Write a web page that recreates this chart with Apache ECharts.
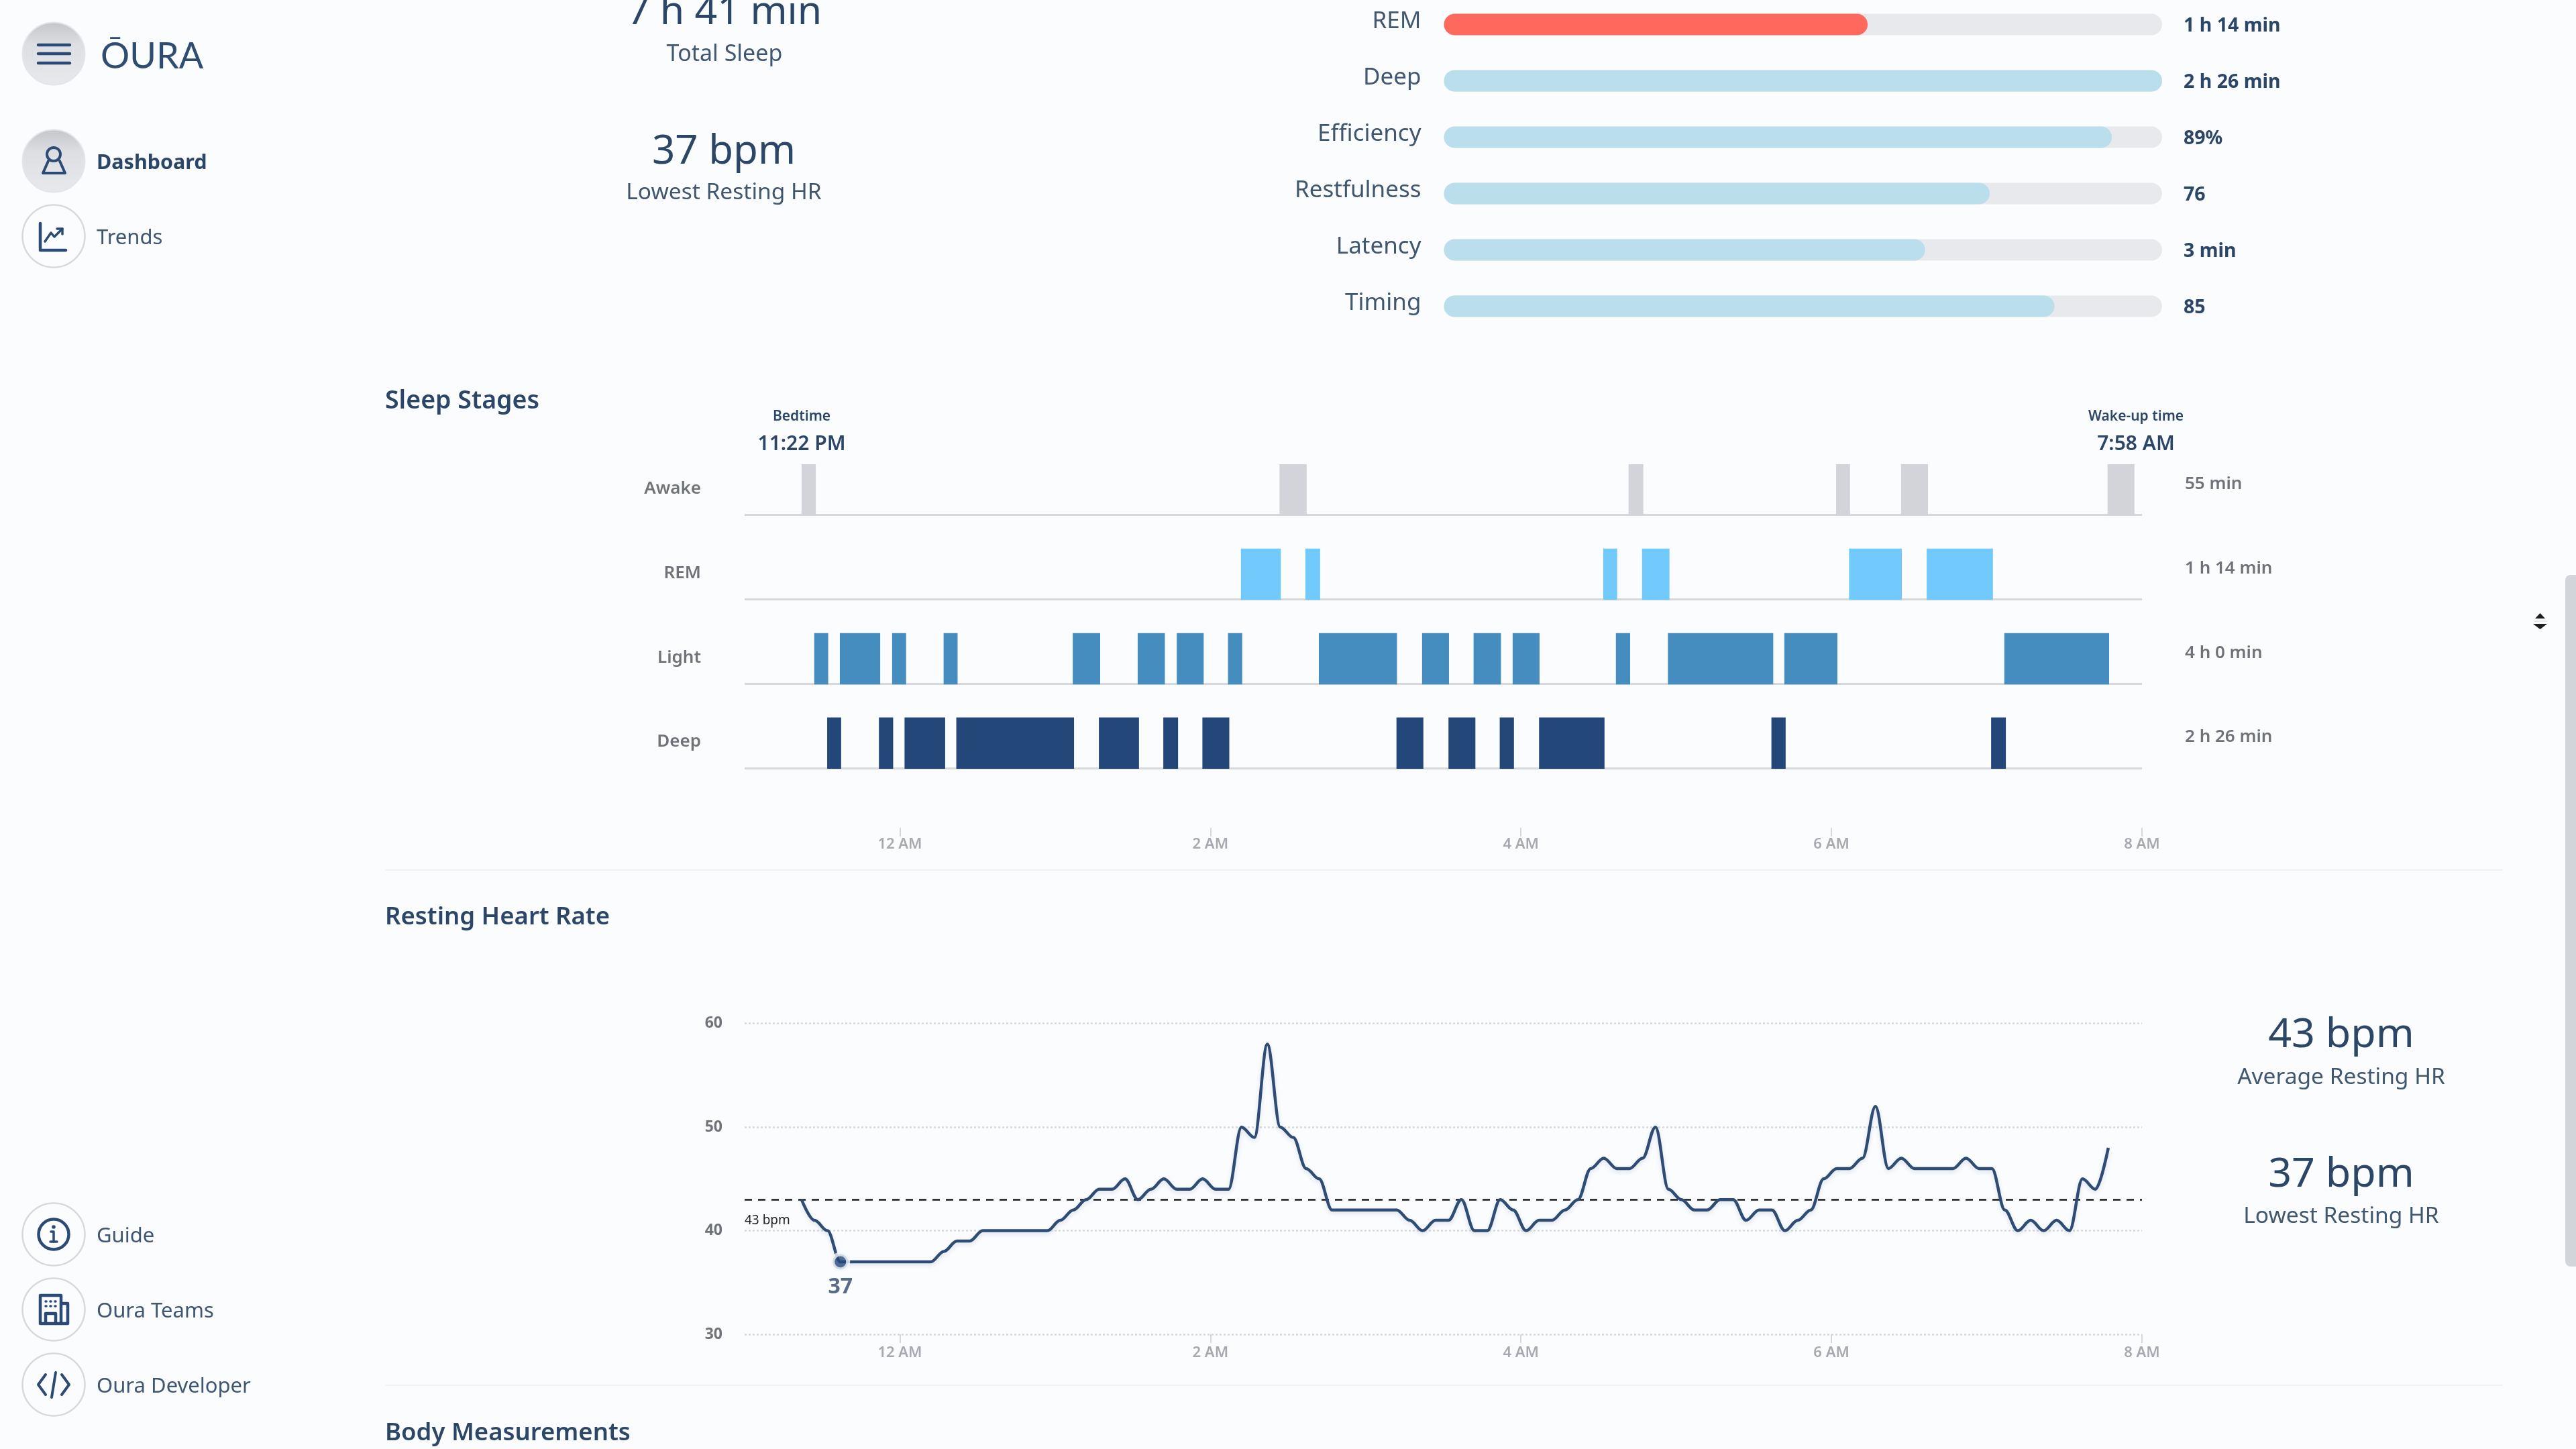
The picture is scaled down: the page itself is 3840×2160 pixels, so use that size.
<!DOCTYPE html>
<html><head><meta charset="utf-8">
<style>html,body{margin:0;padding:0;background:#fafcfe}#c{width:3840px;height:2160px}</style>
<script src="https://cdn.jsdelivr.net/npm/echarts@6/dist/echarts.min.js"></script>
</head><body><div id="c"></div>
<script>
// ---------- data ----------
const scoreNames = ['REM','Deep','Efficiency','Restfulness','Latency','Timing'];
const scoreFill = [59,100,93,76,67,85];
const scoreText = ['1 h 14 min','2 h 26 min','89%','76','3 min','85'];

const stages = ['Awake','REM','Light','Deep'];
const stageTotals = ['55 min','1 h 14 min','4 h 0 min','2 h 26 min'];
// spans as [start,end], in minutes after midnight
const awakeSpans = [[-38,-32.5],[146.7,157.2],[281.6,287.3],[361.8,367.2],[386.9,397.3],[466.7,477.1]];
const remSpans = [[131.8,147.2],[156.7,162.4],[271.8,277.2],[286.8,297.4],[366.8,387.2],[396.8,422.4]];
const lightSpans = [[-33.1,-27.7],[-23.2,-7.6],[-3,2.4],[16.9,22.3],[66.8,77.4],[91.9,102.4],[107,117.4],[126.8,132.3],[161.9,192.1],[201.8,212.2],[221.7,232.3],[236.8,247.2],[276.7,282.2],[296.8,337.5],[341.8,362.3],[426.8,467.3]];
const deepSpans = [[-28.1,-22.7],[-8.1,-2.6],[1.8,17.5],[21.8,67.3],[76.9,92.4],[101.8,107.5],[116.9,127.3],[191.9,202.3],[212,222.4],[231.8,237.3],[247,272.3],[336.8,342.3],[421.7,427.4]];

const hourTicks = [0,120,240,360,480];
const hourLabels = ['12 AM','2 AM','4 AM','6 AM','8 AM'];

const hrTimes = [-38,-33,-28,-23,-18,-13,-8,-3,2,7,12,17,22,27,32,37,42,47,52,57,62,67,72,77,82,87,92,97,102,107,112,117,122,127,132,137,142,147,152,157,162,167,172,177,182,187,192,197,202,207,212,217,222,227,232,237,242,247,252,257,262,267,272,277,282,287,292,297,302,307,312,317,322,327,332,337,342,347,352,357,362,367,372,377,382,387,392,397,402,407,412,417,422,427,432,437,442,447,452,457,462,467];
const hrValues = [43,41,40,37,37,37,37,37,37,37,37,38,39,39,40,40,40,40,40,40,41,42,43,44,44,45,43,44,45,44,44,45,44,44,50,49,58,50,49,46,45,42,42,42,42,42,42,41,40,41,41,43,40,40,43,42,40,41,41,42,43,46,47,46,46,47,50,44,43,42,42,43,43,41,42,42,40,41,42,45,46,46,47,52,46,47,46,46,46,46,47,46,46,42,40,41,40,41,40,45,44,48];
const hrAverage = 43;
const hrLowest = [-23,37];

// ---------- style ----------
const FONT = '"Noto Sans"';
const NAVY = '#2c4668', GREY = '#6f7278', TICK = '#a6a9af', RULE = '#d6d8dc';
const ICON = '#2b4a75';
const stageColors = ['#d2d4da','#72c9fb','#468dbf','#24477a'];
const barRatio = 0.608;

function txt(text,x,y,size,weight,fill,align,family,va){
  return {type:'text',silent:true,z:20,style:{text,x,y:y+(size>=50?5:3),fill,align:align||'left',verticalAlign:va||'middle',
    font:`${weight} ${size}px ${family||FONT}`}};
}
function ln(x1,y1,x2,y2,w,color){
  return {type:'line',silent:true,z:20,shape:{x1,y1,x2,y2},style:{stroke:color||ICON,lineWidth:w,lineCap:'round'}};
}
// small icon outlines: "M x y L x y ..." sub-paths become polylines (or polygons when filled)
function path(d,w,fill){
  const children=d.split('M').filter(s=>s.trim()).map(sub=>{
    const closed=/Z/.test(sub);
    const nums=sub.replace(/[LZ]/g,' ').trim().split(/\s+/).map(Number);
    const points=[];
    for(let i=0;i<nums.length;i+=2) points.push([nums[i],nums[i+1]]);
    if(closed) points.push(points[0].slice());
    return fill
      ? {type:'polygon',silent:true,z:20,shape:{points},style:{fill}}
      : {type:'polyline',silent:true,z:20,shape:{points},style:{stroke:ICON,fill:null,lineWidth:w,lineJoin:'round',lineCap:'round'}};
  });
  return {type:'group',silent:true,children};
}
function disc(cx,cy,active){
  const out={type:'circle',silent:true,z:10,shape:{cx,cy,r:46.5}};
  out.style = active
   ? {fill:{type:'linear',x:0,y:0,x2:0,y2:1,colorStops:[{offset:0,color:'#c3c5c9'},{offset:.35,color:'#dcdee1'},{offset:1,color:'#e8e9ec'}]},stroke:'#e4e5e8',lineWidth:2}
   : {fill:'#fafcfe',stroke:'#d7d9dd',lineWidth:2.5};
  return out;
}

const graphicEls = [
  // sidebar
  disc(80,80,true), ln(57,67,104,67,4.5), ln(57,80,104,80,4.5), ln(57,94,104,94,4.5),
  txt('ŌURA',150,80,54,400,'#2f4c72','left','Lato'),
  disc(80,240,true),
  {type:'circle',silent:true,z:20,shape:{cx:80,cy:230,r:10},style:{fill:'none',stroke:ICON,lineWidth:4}},
  path('M72 240 L64 258 L97 258 L89 240',4),
  txt('Dashboard',144,240,30.5,700,NAVY),
  disc(80,352,false),
  path('M60 333 L60 373 L98 373',4.5), path('M67 360 L76 347 L81 353 L93 341 M85 341 L93 341 L93 349',3.5),
  txt('Trends',144,352,31,400,'#3f5672'),
  disc(80,1840,false),
  {type:'circle',silent:true,z:20,shape:{cx:80,cy:1840,r:22.5},style:{fill:'none',stroke:ICON,lineWidth:4.5}},
  {type:'circle',silent:true,z:20,shape:{cx:80,cy:1829,r:2.8},style:{fill:ICON}},
  path('M76 1836 L80 1836 L80 1851 M75 1851 L85 1851',3.5),
  txt('Guide',144,1840,31,400,'#3f5672'),
  disc(80,1952,false),
  path('M60 1973 L60 1931 L91 1931 L91 1973 Z M68 1973 L68 1958 L83 1958 L83 1973 M91 1943 L101 1943 L101 1973 L91 1973',4.5),
  path('M68 1940 L69 1940 M75 1940 L76 1940 M82 1940 L83 1940 M68 1947 L69 1947 M75 1947 L76 1947 M82 1947 L83 1947',3.5),
  txt('Oura Teams',144,1952,31,400,'#3f5672'),
  disc(80,2064,false),
  path('M68 2049 L57 2064 L68 2079 M92 2049 L103 2064 L92 2079 M83 2046 L77 2083',4),
  txt('Oura Developer',144,2064,31,400,'#3f5672'),

  // left headline numbers
  txt('7 h 41 min',1080,14,59,400,NAVY,'center'),
  txt('Total Sleep',1080,78,34,400,'#40576f','center'),
  txt('37 bpm',1079,222,60,400,NAVY,'center'),
  txt('Lowest Resting HR',1079,284,33.5,400,'#40576f','center'),

  // section headings and rules
  txt('Sleep Stages',574,595,37.5,600,NAVY),
  txt('Resting Heart Rate',574,1365,36.5,600,NAVY),
  txt('Body Measurements',574,2134,36.5,600,NAVY),
  ln(575,1297,3730,1297,2,'#eef0f3'), ln(575,2065,3730,2065,2,'#eef0f3'),

  // bedtime / wake-up
  txt('Bedtime',1195,618,21,600,NAVY,'center'),
  txt('11:22 PM',1195,659,30,600,NAVY,'center'),
  txt('Wake-up time',3184,618,21,600,NAVY,'center'),
  txt('7:58 AM',3184,659,30,600,NAVY,'center'),

  // heart rate summary
  txt('43 bpm',3490,1539,61,400,NAVY,'center'),
  txt('Average Resting HR',3490,1603,33.5,400,'#40576f','center'),
  txt('37 bpm',3490,1747,61,400,NAVY,'center'),
  txt('Lowest Resting HR',3490,1810,33.5,400,'#40576f','center'),

  // scrollbar and pointer
  {type:'rect',silent:true,z:10,shape:{x:3824,y:857,width:30,height:1031,r:8},style:{fill:'#d2d5dc'}},
  path('M3779 922 L3794 922 L3786.5 914 Z M3776 930 L3797 930 L3786.5 938 Z',0,'#1d1d22'),
  ln(3778,926,3795,926,2,'#e8e9ec')
];

const chart = echarts.init(document.getElementById('c'),null,{renderer:'canvas',width:3840,height:2160});

function spanSeries(name,idx,spans){
  return {type:'custom',name,xAxisIndex:1,yAxisIndex:2,silent:true,z:5,
    encode:{x:[1,2],y:0},
    data:spans.map(s=>[idx,s[0],s[1]]),
    renderItem(params,api){
      const cat=api.value(0), a=api.coord([api.value(1),cat]), b=api.coord([api.value(2),cat]);
      const band=api.size([0,1])[1], base=a[1]+band/2, h=band*barRatio;
      return {type:'rect',shape:{x:a[0],y:base-h+1,width:b[0]-a[0],height:h},style:{fill:stageColors[cat]}};
    }};
}

function timeAxis(labelMargin){
  return {
    type:'value',min:-60,max:480,
    axisLine:{show:false},splitLine:{show:false},
    axisTick:{show:true,length:13,customValues:hourTicks,lineStyle:{color:RULE,width:2}},
    axisLabel:{show:true,customValues:hourTicks,formatter:v=>hourLabels[hourTicks.indexOf(v)],
      fontFamily:FONT,fontWeight:600,fontSize:22,color:TICK,margin:labelMargin,hideOverlap:false,showMinLabel:true,showMaxLabel:true}
  };
}

chart.setOption({
  animation:false,
  backgroundColor:'#fafcfe',
  graphic:{elements:graphicEls},
  grid:[
    {left:2152.5,width:1070.5,top:36.5,height:420},
    {left:1110,width:2083,top:641.7,height:503.3},
    {left:1110,width:2083,top:1525.7,height:463.3}
  ],
  xAxis:[
    {gridIndex:0,type:'value',min:0,max:100,show:false},
    Object.assign({gridIndex:1,offset:89},timeAxis(14)),
    Object.assign({gridIndex:2},timeAxis(17))
  ],
  yAxis:[
    {gridIndex:0,type:'category',inverse:true,boundaryGap:false,data:scoreNames,axisLine:{show:false},axisTick:{show:false},
      axisLabel:{margin:34,fontFamily:FONT,fontSize:35,color:'#40576f',verticalAlign:'top',padding:[-22,0,0,0]}},
    {gridIndex:0,type:'category',inverse:true,boundaryGap:false,position:'right',data:scoreText,axisLine:{show:false},axisTick:{show:false},
      axisLabel:{margin:32,fontFamily:FONT,fontSize:28.5,fontWeight:700,color:NAVY,verticalAlign:'top',padding:[-12,0,0,0]}},
    {gridIndex:1,type:'category',inverse:true,data:stages,axisLine:{show:false},axisTick:{show:false},
      splitLine:{show:true,showMinLine:false,lineStyle:{color:RULE,width:3}},
      axisLabel:{margin:65,fontFamily:FONT,fontSize:26,fontWeight:600,color:GREY,verticalAlign:'top',padding:[11,0,0,0]}},
    {gridIndex:1,type:'category',inverse:true,position:'right',data:stageTotals,axisLine:{show:false},axisTick:{show:false},
      splitLine:{show:false},
      axisLabel:{margin:64,fontFamily:FONT,fontSize:26,fontWeight:600,color:GREY,verticalAlign:'top',padding:[4,0,0,0]}},
    {gridIndex:2,type:'value',min:30,max:60,interval:10,axisLine:{show:false},axisTick:{show:false},
      splitLine:{show:true,lineStyle:{color:'#d6d8dc',width:2.5,type:[3,3]}},
      axisLabel:{margin:33,fontFamily:FONT,fontSize:23,fontWeight:700,color:GREY}}
  ],
  series:[
    {type:'bar',xAxisIndex:0,yAxisIndex:0,barWidth:32,silent:true,clip:false,data:scoreFill,
      showBackground:true,backgroundStyle:{color:'#e8e9ec',borderRadius:16},
      itemStyle:{borderRadius:16,color:p=>p.dataIndex===0?'#ff695d':'#bbdeec'}},
    spanSeries('Awake',0,awakeSpans),
    spanSeries('REM',1,remSpans),
    spanSeries('Light',2,lightSpans),
    spanSeries('Deep',3,deepSpans),
    {type:'line',xAxisIndex:2,yAxisIndex:4,silent:true,z:6,showSymbol:false,smooth:0.35,smoothMonotone:'x',
      data:hrTimes.map((t,i)=>[t,hrValues[i]]),
      lineStyle:{color:'#2f4c74',width:4.5,shadowColor:'rgba(36,70,118,0.14)',shadowBlur:6,shadowOffsetY:3},
      markLine:{silent:true,symbol:'none',z:4,
        data:[{yAxis:hrAverage}],
        lineStyle:{color:'#1a1a1a',width:2.5,type:[11,9]},
        label:{position:'insideStartBottom',distance:[0,22],formatter:hrAverage+' bpm',fontFamily:FONT,fontSize:19,color:'#222',padding:0}}},
    {type:'scatter',xAxisIndex:2,yAxisIndex:4,silent:true,z:7,symbolSize:23,data:[hrLowest],
      itemStyle:{color:'#24477a',borderColor:'#f4f6fa',borderWidth:6},
      label:{show:true,position:'bottom',distance:7,formatter:()=>'37',fontFamily:FONT,fontSize:32,fontWeight:700,color:NAVY}}
  ]
});
</script></body></html>
